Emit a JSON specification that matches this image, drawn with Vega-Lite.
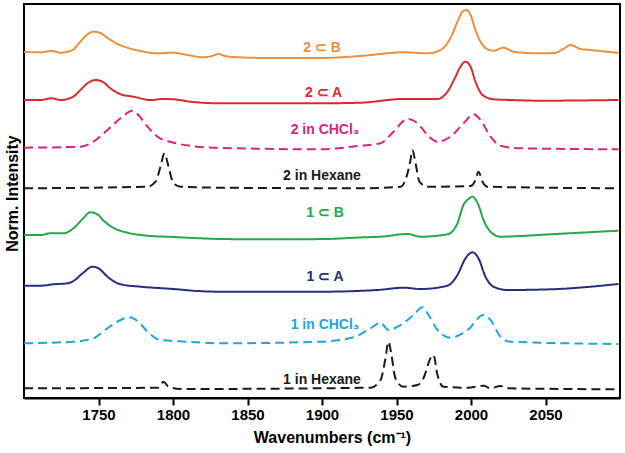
{
  "$schema": "https://vega.github.io/schema/vega-lite/v6.json",
  "width": 596,
  "height": 394,
  "autosize": {"type": "none"},
  "padding": {"left": 24, "top": 4, "right": 5, "bottom": 55},
  "background": "white",
  "config": {
    "view": {"stroke": "black", "strokeWidth": 2},
    "axis": {"grid": false},
    "font": "Liberation Sans"
  },
  "datasets": {
    "spectra": [
      {"s":"2B","x":1700,"y":346},{"s":"2B","x":1711,"y":345.7},{"s":"2B","x":1718.5,"y":347},{"s":"2B","x":1724.5,"y":345.3},{"s":"2B","x":1732.6,"y":348},{"s":"2B","x":1735.9,"y":353},{"s":"2B","x":1741.3,"y":362},{"s":"2B","x":1746.6,"y":366.3},{"s":"2B","x":1751.3,"y":365},{"s":"2B","x":1756,"y":360},{"s":"2B","x":1762.8,"y":354},{"s":"2B","x":1770.1,"y":350},{"s":"2B","x":1778.2,"y":347},{"s":"2B","x":1789.6,"y":344.7},{"s":"2B","x":1800.3,"y":345.3},{"s":"2B","x":1809.7,"y":343},{"s":"2B","x":1820.5,"y":340.7},{"s":"2B","x":1826,"y":342},{"s":"2B","x":1830.5,"y":344},{"s":"2B","x":1835,"y":342},{"s":"2B","x":1840.6,"y":341},{"s":"2B","x":1863.4,"y":340},{"s":"2B","x":1899,"y":340},{"s":"2B","x":1925.8,"y":342},{"s":"2B","x":1954.7,"y":345.7},{"s":"2B","x":1970.8,"y":344.7},{"s":"2B","x":1979.5,"y":348},{"s":"2B","x":1986.2,"y":360},{"s":"2B","x":1990.9,"y":376.3},{"s":"2B","x":1994.3,"y":386.3},{"s":"2B","x":1997,"y":388},{"s":"2B","x":1999.7,"y":383},{"s":"2B","x":2003,"y":368},{"s":"2B","x":2006.4,"y":356.3},{"s":"2B","x":2011.1,"y":348.7},{"s":"2B","x":2015.1,"y":347.3},{"s":"2B","x":2021.8,"y":350.3},{"s":"2B","x":2028.5,"y":346.3},{"s":"2B","x":2044.6,"y":344.7},{"s":"2B","x":2055.4,"y":345},{"s":"2B","x":2062,"y":349},{"s":"2B","x":2066.8,"y":353},{"s":"2B","x":2073.5,"y":349},{"s":"2B","x":2080.2,"y":348},{"s":"2B","x":2099,"y":345},

      {"s":"2A","x":1700,"y":298},{"s":"2A","x":1711,"y":298},{"s":"2A","x":1718.5,"y":299.7},{"s":"2A","x":1724.5,"y":298},{"s":"2A","x":1732.6,"y":301},{"s":"2A","x":1737.9,"y":308},{"s":"2A","x":1742.6,"y":314.7},{"s":"2A","x":1748,"y":318},{"s":"2A","x":1752.7,"y":316.3},{"s":"2A","x":1758,"y":309.7},{"s":"2A","x":1764.8,"y":303.7},{"s":"2A","x":1773.5,"y":301.3},{"s":"2A","x":1784.9,"y":298},{"s":"2A","x":1793.6,"y":299},{"s":"2A","x":1800.3,"y":298.7},{"s":"2A","x":1811.7,"y":296.3},{"s":"2A","x":1831.9,"y":294.7},{"s":"2A","x":1899,"y":294.7},{"s":"2A","x":1925.8,"y":295.3},{"s":"2A","x":1954.7,"y":299},{"s":"2A","x":1977.5,"y":299},{"s":"2A","x":1984.2,"y":306.3},{"s":"2A","x":1989.6,"y":321.3},{"s":"2A","x":1992.9,"y":331.3},{"s":"2A","x":1996.3,"y":336.3},{"s":"2A","x":1999.7,"y":331.3},{"s":"2A","x":2003,"y":316.3},{"s":"2A","x":2007.7,"y":303},{"s":"2A","x":2015.1,"y":298.7},{"s":"2A","x":2026.5,"y":298},{"s":"2A","x":2046.6,"y":297.3},{"s":"2A","x":2099,"y":298},

      {"s":"2C","x":1700,"y":250.3},{"s":"2C","x":1737.9,"y":251.3},{"s":"2C","x":1746.6,"y":256.3},{"s":"2C","x":1756,"y":268},{"s":"2C","x":1764.8,"y":279.7},{"s":"2C","x":1772.8,"y":287.3},{"s":"2C","x":1776.8,"y":283},{"s":"2C","x":1782.9,"y":271.3},{"s":"2C","x":1789.6,"y":261.3},{"s":"2C","x":1800.3,"y":255.3},{"s":"2C","x":1827.2,"y":250.3},{"s":"2C","x":1899,"y":248.7},{"s":"2C","x":1925.8,"y":252.3},{"s":"2C","x":1939.3,"y":254.7},{"s":"2C","x":1948,"y":266.3},{"s":"2C","x":1957.4,"y":279},{"s":"2C","x":1964.1,"y":274.7},{"s":"2C","x":1970.8,"y":263},{"s":"2C","x":1977.5,"y":256.3},{"s":"2C","x":1986.2,"y":261.3},{"s":"2C","x":1995,"y":274.7},{"s":"2C","x":2001.7,"y":283.7},{"s":"2C","x":2006.4,"y":278},{"s":"2C","x":2013.1,"y":261.3},{"s":"2C","x":2019.8,"y":252.3},{"s":"2C","x":2033.2,"y":249.7},{"s":"2C","x":2099,"y":248.7},

      {"s":"2H","x":1700,"y":209.7},{"s":"2H","x":1782.9,"y":211.3},{"s":"2H","x":1788.3,"y":216.3},{"s":"2H","x":1791.6,"y":231.3},{"s":"2H","x":1794.3,"y":244.7},{"s":"2H","x":1797,"y":231.3},{"s":"2H","x":1800.3,"y":214.7},{"s":"2H","x":1805,"y":211.3},{"s":"2H","x":1831.9,"y":210.3},{"s":"2H","x":1925.8,"y":209.7},{"s":"2H","x":1952.7,"y":211.3},{"s":"2H","x":1957.4,"y":224.7},{"s":"2H","x":1959.4,"y":238},{"s":"2H","x":1960.7,"y":248},{"s":"2H","x":1962.8,"y":234.7},{"s":"2H","x":1965.4,"y":216.3},{"s":"2H","x":1970.8,"y":211.3},{"s":"2H","x":1999.7,"y":212},{"s":"2H","x":2003,"y":218},{"s":"2H","x":2005,"y":226.3},{"s":"2H","x":2007.7,"y":216.3},{"s":"2H","x":2011.1,"y":211.3},{"s":"2H","x":2099,"y":209.7},

      {"s":"1B","x":1700,"y":163},{"s":"1B","x":1711,"y":163},{"s":"1B","x":1717.8,"y":164.7},{"s":"1B","x":1726.5,"y":164.7},{"s":"1B","x":1733.2,"y":169.7},{"s":"1B","x":1739.3,"y":179},{"s":"1B","x":1744.6,"y":185.7},{"s":"1B","x":1749.3,"y":183.7},{"s":"1B","x":1753.4,"y":177.3},{"s":"1B","x":1759.4,"y":170.7},{"s":"1B","x":1769.5,"y":165.3},{"s":"1B","x":1782.9,"y":162.3},{"s":"1B","x":1800.3,"y":161},{"s":"1B","x":1816.4,"y":159.8},{"s":"1B","x":1831.9,"y":159},{"s":"1B","x":1860,"y":158.7},{"s":"1B","x":1899,"y":158.9},{"s":"1B","x":1927.9,"y":160.7},{"s":"1B","x":1939.3,"y":161.3},{"s":"1B","x":1957.4,"y":164},{"s":"1B","x":1966.1,"y":161.3},{"s":"1B","x":1984.2,"y":163.7},{"s":"1B","x":1990.9,"y":174.7},{"s":"1B","x":1994.9,"y":193},{"s":"1B","x":1998.3,"y":199},{"s":"1B","x":2001,"y":201.3},{"s":"1B","x":2005,"y":193},{"s":"1B","x":2008.4,"y":178},{"s":"1B","x":2013.1,"y":166.3},{"s":"1B","x":2019.8,"y":161.3},{"s":"1B","x":2033.2,"y":162},{"s":"1B","x":2053.4,"y":163.7},{"s":"1B","x":2099,"y":167.3},

      {"s":"1A","x":1700,"y":112.3},{"s":"1A","x":1711,"y":112.3},{"s":"1A","x":1719.8,"y":113.7},{"s":"1A","x":1729.2,"y":114.7},{"s":"1A","x":1733.2,"y":117},{"s":"1A","x":1739.3,"y":124.7},{"s":"1A","x":1746,"y":131.3},{"s":"1A","x":1750,"y":129.7},{"s":"1A","x":1756,"y":121.3},{"s":"1A","x":1764.8,"y":113.7},{"s":"1A","x":1778.2,"y":111.3},{"s":"1A","x":1800.3,"y":109},{"s":"1A","x":1816.4,"y":107},{"s":"1A","x":1831.9,"y":106.3},{"s":"1A","x":1899,"y":106.3},{"s":"1A","x":1937.2,"y":108},{"s":"1A","x":1954.7,"y":110.3},{"s":"1A","x":1966.1,"y":109},{"s":"1A","x":1984.2,"y":112.3},{"s":"1A","x":1990.9,"y":123},{"s":"1A","x":1996.3,"y":139.7},{"s":"1A","x":2001,"y":145.7},{"s":"1A","x":2005,"y":139.7},{"s":"1A","x":2009.7,"y":121.3},{"s":"1A","x":2015.1,"y":111.3},{"s":"1A","x":2024.5,"y":108},{"s":"1A","x":2053.4,"y":108.7},{"s":"1A","x":2099,"y":114},

      {"s":"1C","x":1700,"y":54.7},{"s":"1C","x":1733.2,"y":56.3},{"s":"1C","x":1746.6,"y":59.7},{"s":"1C","x":1756,"y":69.7},{"s":"1C","x":1764.8,"y":78},{"s":"1C","x":1770.8,"y":80.7},{"s":"1C","x":1776.2,"y":77},{"s":"1C","x":1782.9,"y":66.3},{"s":"1C","x":1791.6,"y":58},{"s":"1C","x":1809.7,"y":56.3},{"s":"1C","x":1831.9,"y":54.7},{"s":"1C","x":1899,"y":56.3},{"s":"1C","x":1921.1,"y":60.7},{"s":"1C","x":1932.6,"y":69.7},{"s":"1C","x":1939.3,"y":75.3},{"s":"1C","x":1944.6,"y":68},{"s":"1C","x":1952.7,"y":73},{"s":"1C","x":1961.4,"y":83},{"s":"1C","x":1967.4,"y":90.7},{"s":"1C","x":1971.5,"y":83},{"s":"1C","x":1977.5,"y":68},{"s":"1C","x":1986.2,"y":60.3},{"s":"1C","x":1997.7,"y":68},{"s":"1C","x":2008.4,"y":83},{"s":"1C","x":2013.1,"y":78},{"s":"1C","x":2019.8,"y":61.3},{"s":"1C","x":2026.5,"y":56.3},{"s":"1C","x":2099,"y":54},

      {"s":"1H","x":1700,"y":9.7},{"s":"1H","x":1790.3,"y":10.3},{"s":"1H","x":1793.6,"y":16.3},{"s":"1H","x":1797,"y":11.3},{"s":"1H","x":1805,"y":9},{"s":"1H","x":1932.6,"y":10.3},{"s":"1H","x":1939.3,"y":18},{"s":"1H","x":1942.6,"y":39.7},{"s":"1H","x":1944.6,"y":56.3},{"s":"1H","x":1946.6,"y":43},{"s":"1H","x":1949.3,"y":19.7},{"s":"1H","x":1954.7,"y":11.3},{"s":"1H","x":1964.1,"y":13},{"s":"1H","x":1968.1,"y":19.7},{"s":"1H","x":1972.8,"y":39.7},{"s":"1H","x":1974.8,"y":43},{"s":"1H","x":1977.5,"y":23},{"s":"1H","x":1981.5,"y":11.3},{"s":"1H","x":1997.7,"y":10.3},{"s":"1H","x":2008.4,"y":12.3},{"s":"1H","x":2013.1,"y":9.7},{"s":"1H","x":2019.8,"y":12},{"s":"1H","x":2024.5,"y":9.7},{"s":"1H","x":2099,"y":8.7}
    ],
    "labels": [
      {"s":"2B","t":"2 ⊂ B","x":1900,"y":350},
      {"s":"2A","t":"2 ⊂ A","x":1901,"y":305},
      {"s":"2C","t":"2 in CHCl₃","x":1902,"y":268},
      {"s":"2H","t":"2 in Hexane","x":1900,"y":222},
      {"s":"1B","t":"1 ⊂ B","x":1902,"y":185},
      {"s":"1A","t":"1 ⊂ A","x":1902,"y":121},
      {"s":"1C","t":"1 in CHCl₃","x":1902,"y":73},
      {"s":"1H","t":"1 in Hexane","x":1900,"y":18}
    ]
  },
  "layer": [
    {
      "data": {"name": "spectra"},
      "transform": [
        {"calculate": "indexof(['2C','2H','1C','1H'], datum.s) >= 0 ? 'dashed' : 'solid'", "as": "style"}
      ],
      "mark": {"type": "line", "strokeWidth": 2, "interpolate": "monotone"},
      "encoding": {
        "x": {
          "field": "x", "type": "quantitative",
          "scale": {"domain": [1700, 2100], "nice": false, "zero": false},
          "axis": {
            "values": [1750, 1800, 1850, 1900, 1950, 2000, 2050],
            "format": "d",
            "title": "Wavenumbers (cm⁻¹)",
            "labelFont": "Liberation Sans", "labelFontSize": 15, "labelFontWeight": "bold", "labelColor": "black",
            "labelPadding": 2,
            "tickSize": 7, "tickWidth": 2, "tickColor": "black",
            "domainColor": "black", "domainWidth": 2,
            "titleFont": "Liberation Sans", "titleFontSize": 16, "titleFontWeight": "bold", "titleColor": "black",
            "titlePadding": 7, "titleX": 308
          }
        },
        "y": {
          "field": "y", "type": "quantitative",
          "scale": {"domain": [0, 394], "nice": false, "zero": false},
          "axis": {
            "labels": false, "ticks": false, "domain": false,
            "title": "Norm. Intensity",
            "titleFont": "Liberation Sans", "titleFontSize": 16, "titleFontWeight": "bold", "titleColor": "black",
            "titlePadding": 4, "titleY": 189
          }
        },
        "color": {
          "field": "s", "type": "nominal", "legend": null,
          "scale": {
            "domain": ["2B","2A","2C","2H","1B","1A","1C","1H"],
            "range": ["#EC8E3A","#D62B2E","#D8247E","#1a1a1a","#24A84A","#262C7E","#22A3DC","#1a1a1a"]
          }
        },
        "strokeDash": {
          "field": "style", "type": "nominal", "legend": null,
          "scale": {"domain": ["solid","dashed"], "range": [[1,0],[9,5]]}
        },
        "detail": {"field": "s"}
      }
    },
    {
      "mark": {"type": "rule", "stroke": "black", "strokeWidth": 2},
      "encoding": {"y": {"datum": 206}}
    },
    {
      "data": {"name": "labels"},
      "mark": {"type": "text", "font": "Liberation Sans", "fontSize": 14, "fontWeight": "bold", "align": "center", "baseline": "middle"},
      "encoding": {
        "x": {"field": "x", "type": "quantitative"},
        "y": {"field": "y", "type": "quantitative"},
        "text": {"field": "t"},
        "color": {"field": "s", "type": "nominal", "legend": null}
      }
    }
  ]
}
